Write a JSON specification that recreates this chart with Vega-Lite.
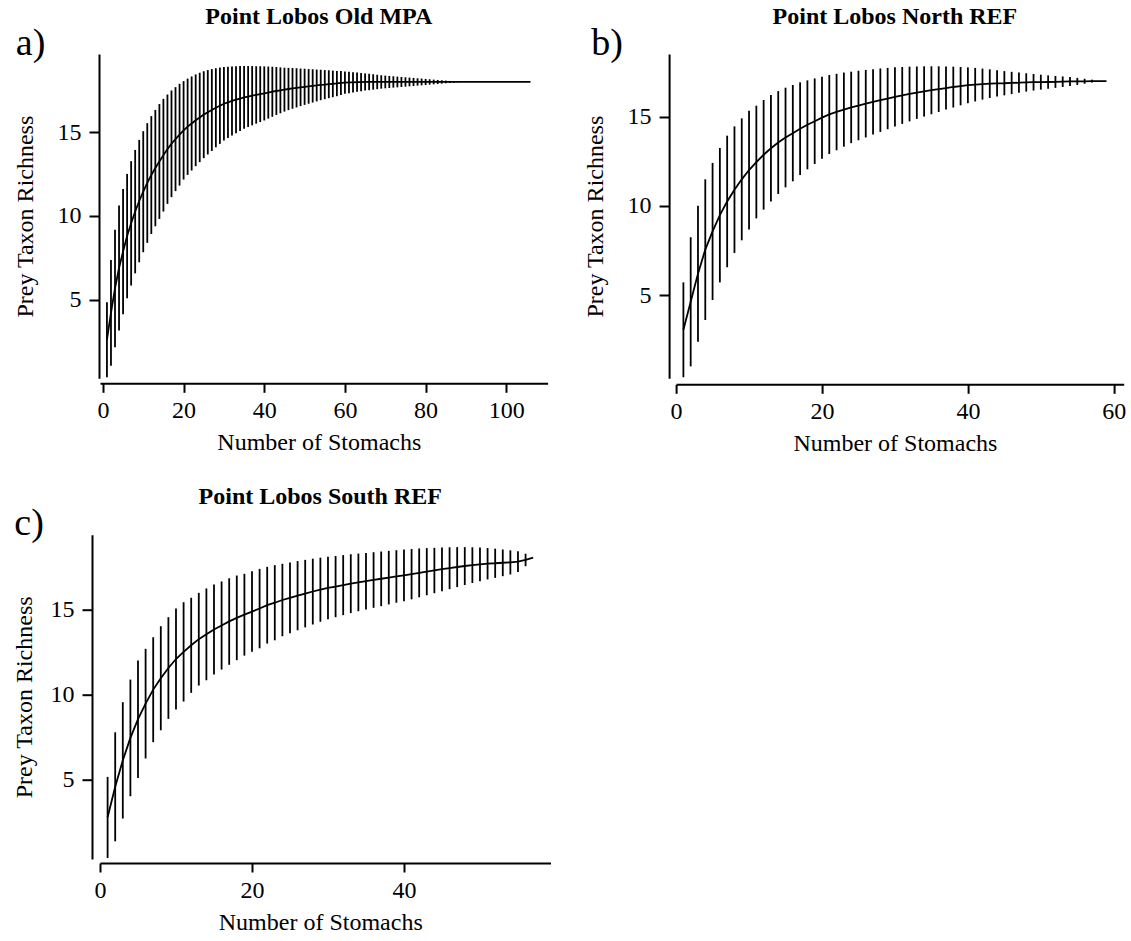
{
"$schema": "https://vega.github.io/schema/vega-lite/v6.json",
"background": "white",
"padding": {"left": 12, "top": 4, "right": 0, "bottom": 0},
"config": {
 "font": "Liberation Serif",
 "view": {"stroke": null},
 "axis": {"grid": false, "domainColor": "#000", "domainWidth": 2, "tickColor": "#000", "tickWidth": 2, "labelColor": "#000", "titleColor": "#000", "labelFontSize": 24, "titleFontSize": 24, "titleFontWeight": "normal", "labelFont": "Liberation Serif", "titleFont": "Liberation Serif", "labelFlush": false, "labelOverlap": false},
 "title": {"font": "Liberation Serif", "fontSize": 24, "fontWeight": "bold", "color": "#000", "anchor": "middle", "offset": -4, "dx": -5}
},
"datasets": {
 "d": [
{"p":"a","x":1,"m":2.60,"lo":0.36,"hi":4.84},
{"p":"a","x":2,"m":4.21,"lo":1.05,"hi":7.37},
{"p":"a","x":3,"m":5.67,"lo":2.15,"hi":9.18},
{"p":"a","x":4,"m":6.89,"lo":3.15,"hi":10.62},
{"p":"a","x":5,"m":7.87,"lo":4.12,"hi":11.61},
{"p":"a","x":6,"m":8.80,"lo":5.08,"hi":12.51},
{"p":"a","x":7,"m":9.56,"lo":5.84,"hi":13.27},
{"p":"a","x":8,"m":10.26,"lo":6.57,"hi":13.94},
{"p":"a","x":9,"m":10.89,"lo":7.23,"hi":14.54},
{"p":"a","x":10,"m":11.45,"lo":7.83,"hi":15.06},
{"p":"a","x":11,"m":11.97,"lo":8.39,"hi":15.54},
{"p":"a","x":12,"m":12.44,"lo":8.92,"hi":15.96},
{"p":"a","x":13,"m":12.86,"lo":9.38,"hi":16.33},
{"p":"a","x":14,"m":13.25,"lo":9.82,"hi":16.68},
{"p":"a","x":15,"m":13.63,"lo":10.26,"hi":16.99},
{"p":"a","x":16,"m":13.99,"lo":10.72,"hi":17.25},
{"p":"a","x":17,"m":14.31,"lo":11.12,"hi":17.49},
{"p":"a","x":18,"m":14.59,"lo":11.48,"hi":17.69},
{"p":"a","x":19,"m":14.85,"lo":11.81,"hi":17.89},
{"p":"a","x":20,"m":15.11,"lo":12.17,"hi":18.05},
{"p":"a","x":21,"m":15.33,"lo":12.45,"hi":18.20},
{"p":"a","x":22,"m":15.52,"lo":12.71,"hi":18.33},
{"p":"a","x":23,"m":15.71,"lo":12.97,"hi":18.45},
{"p":"a","x":24,"m":15.88,"lo":13.21,"hi":18.55},
{"p":"a","x":25,"m":16.05,"lo":13.45,"hi":18.64},
{"p":"a","x":26,"m":16.19,"lo":13.67,"hi":18.71},
{"p":"a","x":27,"m":16.33,"lo":13.88,"hi":18.77},
{"p":"a","x":28,"m":16.46,"lo":14.10,"hi":18.82},
{"p":"a","x":29,"m":16.58,"lo":14.30,"hi":18.86},
{"p":"a","x":30,"m":16.70,"lo":14.50,"hi":18.89},
{"p":"a","x":31,"m":16.78,"lo":14.65,"hi":18.91},
{"p":"a","x":32,"m":16.87,"lo":14.80,"hi":18.93},
{"p":"a","x":33,"m":16.94,"lo":14.94,"hi":18.94},
{"p":"a","x":34,"m":17.01,"lo":15.07,"hi":18.95},
{"p":"a","x":35,"m":17.08,"lo":15.20,"hi":18.95},
{"p":"a","x":36,"m":17.13,"lo":15.31,"hi":18.95},
{"p":"a","x":37,"m":17.18,"lo":15.41,"hi":18.95},
{"p":"a","x":38,"m":17.23,"lo":15.51,"hi":18.94},
{"p":"a","x":39,"m":17.28,"lo":15.61,"hi":18.94},
{"p":"a","x":40,"m":17.32,"lo":15.70,"hi":18.93},
{"p":"a","x":41,"m":17.37,"lo":15.81,"hi":18.92},
{"p":"a","x":42,"m":17.42,"lo":15.92,"hi":18.91},
{"p":"a","x":43,"m":17.46,"lo":16.03,"hi":18.89},
{"p":"a","x":44,"m":17.50,"lo":16.13,"hi":18.87},
{"p":"a","x":45,"m":17.54,"lo":16.23,"hi":18.85},
{"p":"a","x":46,"m":17.58,"lo":16.32,"hi":18.84},
{"p":"a","x":47,"m":17.62,"lo":16.40,"hi":18.83},
{"p":"a","x":48,"m":17.65,"lo":16.48,"hi":18.82},
{"p":"a","x":49,"m":17.68,"lo":16.56,"hi":18.80},
{"p":"a","x":50,"m":17.71,"lo":16.63,"hi":18.79},
{"p":"a","x":51,"m":17.74,"lo":16.70,"hi":18.77},
{"p":"a","x":52,"m":17.77,"lo":16.77,"hi":18.76},
{"p":"a","x":53,"m":17.79,"lo":16.84,"hi":18.74},
{"p":"a","x":54,"m":17.82,"lo":16.91,"hi":18.73},
{"p":"a","x":55,"m":17.84,"lo":16.97,"hi":18.71},
{"p":"a","x":56,"m":17.87,"lo":17.03,"hi":18.70},
{"p":"a","x":57,"m":17.89,"lo":17.09,"hi":18.68},
{"p":"a","x":58,"m":17.91,"lo":17.15,"hi":18.66},
{"p":"a","x":59,"m":17.94,"lo":17.22,"hi":18.65},
{"p":"a","x":60,"m":17.96,"lo":17.29,"hi":18.63},
{"p":"a","x":61,"m":17.97,"lo":17.33,"hi":18.61},
{"p":"a","x":62,"m":17.98,"lo":17.37,"hi":18.58},
{"p":"a","x":63,"m":17.99,"lo":17.42,"hi":18.56},
{"p":"a","x":64,"m":17.99,"lo":17.45,"hi":18.53},
{"p":"a","x":65,"m":18.0,"lo":17.49,"hi":18.51},
{"p":"a","x":66,"m":18.0,"lo":17.51,"hi":18.49},
{"p":"a","x":67,"m":18.0,"lo":17.54,"hi":18.46},
{"p":"a","x":68,"m":18.0,"lo":17.57,"hi":18.43},
{"p":"a","x":69,"m":18.0,"lo":17.60,"hi":18.40},
{"p":"a","x":70,"m":18.0,"lo":17.62,"hi":18.38},
{"p":"a","x":71,"m":18.0,"lo":17.64,"hi":18.36},
{"p":"a","x":72,"m":18.0,"lo":17.66,"hi":18.34},
{"p":"a","x":73,"m":18.0,"lo":17.68,"hi":18.32},
{"p":"a","x":74,"m":18.0,"lo":17.70,"hi":18.30},
{"p":"a","x":75,"m":18.0,"lo":17.72,"hi":18.28},
{"p":"a","x":76,"m":18.0,"lo":17.74,"hi":18.26},
{"p":"a","x":77,"m":18.0,"lo":17.76,"hi":18.24},
{"p":"a","x":78,"m":18.0,"lo":17.78,"hi":18.22},
{"p":"a","x":79,"m":18.0,"lo":17.80,"hi":18.20},
{"p":"a","x":80,"m":18.0,"lo":17.82,"hi":18.18},
{"p":"a","x":81,"m":18.0,"lo":17.84,"hi":18.16},
{"p":"a","x":82,"m":18.0,"lo":17.86,"hi":18.14},
{"p":"a","x":83,"m":18.0,"lo":17.88,"hi":18.12},
{"p":"a","x":84,"m":18.0,"lo":17.90,"hi":18.10},
{"p":"a","x":85,"m":18.0,"lo":17.92,"hi":18.08},
{"p":"a","x":86,"m":18.0,"lo":17.94,"hi":18.06},
{"p":"a","x":87,"m":18.0,"lo":17.96,"hi":18.04},
{"p":"a","x":88,"m":18.0,"lo":17.98,"hi":18.02},
{"p":"a","x":89,"m":18.0,"lo":18.0,"hi":18.0},
{"p":"a","x":90,"m":18.0,"lo":18.0,"hi":18.0},
{"p":"a","x":91,"m":18.0,"lo":18.0,"hi":18.0},
{"p":"a","x":92,"m":18.0,"lo":18.0,"hi":18.0},
{"p":"a","x":93,"m":18.0,"lo":18.0,"hi":18.0},
{"p":"a","x":94,"m":18.0,"lo":18.0,"hi":18.0},
{"p":"a","x":95,"m":18.0,"lo":18.0,"hi":18.0},
{"p":"a","x":96,"m":18.0,"lo":18.0,"hi":18.0},
{"p":"a","x":97,"m":18.0,"lo":18.0,"hi":18.0},
{"p":"a","x":98,"m":18.0,"lo":18.0,"hi":18.0},
{"p":"a","x":99,"m":18.0,"lo":18.0,"hi":18.0},
{"p":"a","x":100,"m":18.0,"lo":18.0,"hi":18.0},
{"p":"a","x":101,"m":18.0,"lo":18.0,"hi":18.0},
{"p":"a","x":102,"m":18.0,"lo":18.0,"hi":18.0},
{"p":"a","x":103,"m":18.0,"lo":18.0,"hi":18.0},
{"p":"a","x":104,"m":18.0,"lo":18.0,"hi":18.0},
{"p":"a","x":105,"m":18.0,"lo":18.0,"hi":18.0},
{"p":"a","x":106,"m":18.0,"lo":18.0,"hi":18.0},
{"p":"b","x":1,"m":3.05,"lo":0.39,"hi":5.71},
{"p":"b","x":2,"m":4.62,"lo":1.00,"hi":8.24},
{"p":"b","x":3,"m":6.20,"lo":2.38,"hi":10.01},
{"p":"b","x":4,"m":7.55,"lo":3.60,"hi":11.49},
{"p":"b","x":5,"m":8.57,"lo":4.72,"hi":12.41},
{"p":"b","x":6,"m":9.48,"lo":5.71,"hi":13.25},
{"p":"b","x":7,"m":10.25,"lo":6.56,"hi":13.94},
{"p":"b","x":8,"m":10.91,"lo":7.36,"hi":14.46},
{"p":"b","x":9,"m":11.49,"lo":8.07,"hi":14.91},
{"p":"b","x":10,"m":12.01,"lo":8.67,"hi":15.34},
{"p":"b","x":11,"m":12.46,"lo":9.30,"hi":15.62},
{"p":"b","x":12,"m":12.87,"lo":9.79,"hi":15.94},
{"p":"b","x":13,"m":13.23,"lo":10.24,"hi":16.22},
{"p":"b","x":14,"m":13.56,"lo":10.67,"hi":16.44},
{"p":"b","x":15,"m":13.84,"lo":11.04,"hi":16.63},
{"p":"b","x":16,"m":14.08,"lo":11.38,"hi":16.78},
{"p":"b","x":17,"m":14.33,"lo":11.73,"hi":16.93},
{"p":"b","x":18,"m":14.55,"lo":12.05,"hi":17.04},
{"p":"b","x":19,"m":14.75,"lo":12.35,"hi":17.15},
{"p":"b","x":20,"m":14.95,"lo":12.65,"hi":17.25},
{"p":"b","x":21,"m":15.13,"lo":12.91,"hi":17.34},
{"p":"b","x":22,"m":15.27,"lo":13.12,"hi":17.41},
{"p":"b","x":23,"m":15.40,"lo":13.32,"hi":17.48},
{"p":"b","x":24,"m":15.53,"lo":13.52,"hi":17.53},
{"p":"b","x":25,"m":15.63,"lo":13.68,"hi":17.58},
{"p":"b","x":26,"m":15.74,"lo":13.84,"hi":17.63},
{"p":"b","x":27,"m":15.84,"lo":14.00,"hi":17.67},
{"p":"b","x":28,"m":15.93,"lo":14.15,"hi":17.71},
{"p":"b","x":29,"m":16.02,"lo":14.30,"hi":17.74},
{"p":"b","x":30,"m":16.11,"lo":14.45,"hi":17.77},
{"p":"b","x":31,"m":16.20,"lo":14.60,"hi":17.79},
{"p":"b","x":32,"m":16.28,"lo":14.74,"hi":17.81},
{"p":"b","x":33,"m":16.35,"lo":14.88,"hi":17.82},
{"p":"b","x":34,"m":16.42,"lo":15.01,"hi":17.83},
{"p":"b","x":35,"m":16.49,"lo":15.14,"hi":17.83},
{"p":"b","x":36,"m":16.55,"lo":15.27,"hi":17.83},
{"p":"b","x":37,"m":16.61,"lo":15.40,"hi":17.82},
{"p":"b","x":38,"m":16.67,"lo":15.52,"hi":17.81},
{"p":"b","x":39,"m":16.72,"lo":15.64,"hi":17.79},
{"p":"b","x":40,"m":16.77,"lo":15.76,"hi":17.77},
{"p":"b","x":41,"m":16.80,"lo":15.86,"hi":17.74},
{"p":"b","x":42,"m":16.83,"lo":15.96,"hi":17.70},
{"p":"b","x":43,"m":16.86,"lo":16.05,"hi":17.66},
{"p":"b","x":44,"m":16.87,"lo":16.13,"hi":17.61},
{"p":"b","x":45,"m":16.88,"lo":16.20,"hi":17.56},
{"p":"b","x":46,"m":16.90,"lo":16.27,"hi":17.52},
{"p":"b","x":47,"m":16.91,"lo":16.34,"hi":17.48},
{"p":"b","x":48,"m":16.93,"lo":16.41,"hi":17.44},
{"p":"b","x":49,"m":16.94,"lo":16.47,"hi":17.40},
{"p":"b","x":50,"m":16.94,"lo":16.52,"hi":17.36},
{"p":"b","x":51,"m":16.95,"lo":16.57,"hi":17.32},
{"p":"b","x":52,"m":16.96,"lo":16.62,"hi":17.29},
{"p":"b","x":53,"m":16.97,"lo":16.67,"hi":17.26},
{"p":"b","x":54,"m":16.98,"lo":16.72,"hi":17.23},
{"p":"b","x":55,"m":16.98,"lo":16.78,"hi":17.18},
{"p":"b","x":56,"m":16.99,"lo":16.85,"hi":17.13},
{"p":"b","x":57,"m":17.0,"lo":16.92,"hi":17.08},
{"p":"b","x":58,"m":17.0,"lo":17.0,"hi":17.0},
{"p":"b","x":59,"m":17.0,"lo":17.0,"hi":17.0},
{"p":"c","x":1,"m":2.78,"lo":0.39,"hi":5.16},
{"p":"c","x":2,"m":4.58,"lo":1.37,"hi":7.78},
{"p":"c","x":3,"m":6.13,"lo":2.71,"hi":9.55},
{"p":"c","x":4,"m":7.45,"lo":4.02,"hi":10.88},
{"p":"c","x":5,"m":8.55,"lo":5.10,"hi":12.00},
{"p":"c","x":6,"m":9.47,"lo":6.24,"hi":12.69},
{"p":"c","x":7,"m":10.29,"lo":7.20,"hi":13.37},
{"p":"c","x":8,"m":10.96,"lo":7.90,"hi":14.02},
{"p":"c","x":9,"m":11.56,"lo":8.57,"hi":14.55},
{"p":"c","x":10,"m":12.09,"lo":9.12,"hi":15.06},
{"p":"c","x":11,"m":12.51,"lo":9.59,"hi":15.43},
{"p":"c","x":12,"m":12.90,"lo":10.10,"hi":15.69},
{"p":"c","x":13,"m":13.26,"lo":10.53,"hi":15.98},
{"p":"c","x":14,"m":13.54,"lo":10.84,"hi":16.24},
{"p":"c","x":15,"m":13.83,"lo":11.18,"hi":16.47},
{"p":"c","x":16,"m":14.06,"lo":11.47,"hi":16.65},
{"p":"c","x":17,"m":14.30,"lo":11.75,"hi":16.84},
{"p":"c","x":18,"m":14.51,"lo":12.02,"hi":17.00},
{"p":"c","x":19,"m":14.70,"lo":12.29,"hi":17.10},
{"p":"c","x":20,"m":14.88,"lo":12.51,"hi":17.25},
{"p":"c","x":21,"m":15.06,"lo":12.72,"hi":17.39},
{"p":"c","x":22,"m":15.26,"lo":13.00,"hi":17.51},
{"p":"c","x":23,"m":15.40,"lo":13.19,"hi":17.61},
{"p":"c","x":24,"m":15.56,"lo":13.43,"hi":17.69},
{"p":"c","x":25,"m":15.69,"lo":13.60,"hi":17.77},
{"p":"c","x":26,"m":15.82,"lo":13.78,"hi":17.85},
{"p":"c","x":27,"m":15.94,"lo":13.95,"hi":17.92},
{"p":"c","x":28,"m":16.06,"lo":14.12,"hi":17.99},
{"p":"c","x":29,"m":16.17,"lo":14.28,"hi":18.05},
{"p":"c","x":30,"m":16.27,"lo":14.43,"hi":18.10},
{"p":"c","x":31,"m":16.35,"lo":14.55,"hi":18.15},
{"p":"c","x":32,"m":16.44,"lo":14.67,"hi":18.20},
{"p":"c","x":33,"m":16.52,"lo":14.79,"hi":18.25},
{"p":"c","x":34,"m":16.60,"lo":14.90,"hi":18.29},
{"p":"c","x":35,"m":16.67,"lo":15.00,"hi":18.33},
{"p":"c","x":36,"m":16.74,"lo":15.10,"hi":18.37},
{"p":"c","x":37,"m":16.81,"lo":15.20,"hi":18.41},
{"p":"c","x":38,"m":16.88,"lo":15.30,"hi":18.45},
{"p":"c","x":39,"m":16.95,"lo":15.40,"hi":18.49},
{"p":"c","x":40,"m":17.01,"lo":15.49,"hi":18.53},
{"p":"c","x":41,"m":17.08,"lo":15.60,"hi":18.56},
{"p":"c","x":42,"m":17.16,"lo":15.72,"hi":18.59},
{"p":"c","x":43,"m":17.23,"lo":15.84,"hi":18.61},
{"p":"c","x":44,"m":17.30,"lo":15.96,"hi":18.63},
{"p":"c","x":45,"m":17.37,"lo":16.08,"hi":18.65},
{"p":"c","x":46,"m":17.43,"lo":16.20,"hi":18.66},
{"p":"c","x":47,"m":17.50,"lo":16.32,"hi":18.67},
{"p":"c","x":48,"m":17.56,"lo":16.44,"hi":18.67},
{"p":"c","x":49,"m":17.61,"lo":16.56,"hi":18.66},
{"p":"c","x":50,"m":17.66,"lo":16.67,"hi":18.65},
{"p":"c","x":51,"m":17.70,"lo":16.77,"hi":18.62},
{"p":"c","x":52,"m":17.72,"lo":16.86,"hi":18.58},
{"p":"c","x":53,"m":17.75,"lo":16.96,"hi":18.53},
{"p":"c","x":54,"m":17.77,"lo":17.06,"hi":18.48},
{"p":"c","x":55,"m":17.82,"lo":17.20,"hi":18.43},
{"p":"c","x":56,"m":17.92,"lo":17.55,"hi":18.28},
{"p":"c","x":57,"m":18.05,"lo":18.05,"hi":18.05}
 ],
 "lab": [
  {"p": "a", "t": "a)"},
  {"p": "b", "t": "b)"},
  {"p": "c", "t": "c)"}
 ]
},
"concat": [
 {
  "width": 447.6, "height": 324.3,
  "title": "Point Lobos Old MPA",
  "layer": [
   {"data": {"name": "d"}, "transform": [{"filter": "datum.p === 'a'"}], "mark": {"type": "rule", "color": "#000", "strokeWidth": 1.8},
    "encoding": {
     "x": {"field": "x", "type": "quantitative", "title": "Number of Stomachs", "scale": {"domain": [-0.72, 110.24], "nice": false, "zero": false}, "axis": {"values": [0, 20, 40, 60, 80, 100], "offset": 5, "tickSize": 9, "labelPadding": 6, "titlePadding": 8, "titleX": 218.8}},
     "y": {"field": "lo", "type": "quantitative", "title": "Prey Taxon Richness", "scale": {"domain": [0.3, 19.67], "nice": false, "zero": false}, "axis": {"values": [5, 10, 15], "offset": 1, "tickSize": 10, "labelPadding": 8, "titlePadding": 20}},
     "y2": {"field": "hi"}}},
   {"data": {"name": "d"}, "transform": [{"filter": "datum.p === 'a'"}], "mark": {"type": "line", "color": "#000", "strokeWidth": 1.8},
    "encoding": {"x": {"field": "x", "type": "quantitative", "title": "Number of Stomachs"}, "y": {"field": "m", "type": "quantitative", "title": "Prey Taxon Richness"}}},
   {"data": {"name": "lab"}, "transform": [{"filter": "datum.p === 'a'"}], "mark": {"type": "text", "fontSize": 38, "font": "Liberation Serif", "color": "#000", "baseline": "middle", "align": "center", "clip": false},
    "encoding": {"x": {"datum": -17.92}, "y": {"datum": 20.27}, "text": {"field": "t", "type": "nominal"}}}
  ]
 },
 {
  "width": 447.6, "height": 324.3,
  "title": "Point Lobos North REF",
  "layer": [
   {"data": {"name": "d"}, "transform": [{"filter": "datum.p === 'b'"}], "mark": {"type": "rule", "color": "#000", "strokeWidth": 1.8},
    "encoding": {
     "x": {"field": "x", "type": "quantitative", "title": "Number of Stomachs", "scale": {"domain": [0, 61.36], "nice": false, "zero": false}, "axis": {"values": [0, 20, 40, 60], "offset": 6, "tickSize": 9, "labelPadding": 6, "titlePadding": 8, "titleX": 218.8}},
     "y": {"field": "lo", "type": "quantitative", "title": "Prey Taxon Richness", "scale": {"domain": [0.33, 18.52], "nice": false, "zero": false}, "axis": {"values": [5, 10, 15], "offset": 7, "tickSize": 10, "labelPadding": 8, "titlePadding": 20}},
     "y2": {"field": "hi"}}},
   {"data": {"name": "d"}, "transform": [{"filter": "datum.p === 'b'"}], "mark": {"type": "line", "color": "#000", "strokeWidth": 1.8},
    "encoding": {"x": {"field": "x", "type": "quantitative", "title": "Number of Stomachs"}, "y": {"field": "m", "type": "quantitative", "title": "Prey Taxon Richness"}}},
   {"data": {"name": "lab"}, "transform": [{"filter": "datum.p === 'b'"}], "mark": {"type": "text", "fontSize": 38, "font": "Liberation Serif", "color": "#000", "baseline": "middle", "align": "center", "clip": false},
    "encoding": {"x": {"datum": -9.46}, "y": {"datum": 19.08}, "text": {"field": "t", "type": "nominal"}}}
  ]
 },
 {
  "width": 450.5, "height": 324.3,
  "title": "Point Lobos South REF",
  "layer": [
   {"data": {"name": "d"}, "transform": [{"filter": "datum.p === 'c'"}], "mark": {"type": "rule", "color": "#000", "strokeWidth": 1.8},
    "encoding": {
     "x": {"field": "x", "type": "quantitative", "title": "Number of Stomachs", "scale": {"domain": [0, 59.28], "nice": false, "zero": false}, "axis": {"values": [0, 20, 40], "offset": 4, "tickSize": 9, "labelPadding": 6, "titlePadding": 8, "titleX": 220.25}},
     "y": {"field": "lo", "type": "quantitative", "title": "Prey Taxon Richness", "scale": {"domain": [0.33, 19.4], "nice": false, "zero": false}, "axis": {"values": [5, 10, 15], "offset": 8, "tickSize": 10, "labelPadding": 8, "titlePadding": 14}},
     "y2": {"field": "hi"}}},
   {"data": {"name": "d"}, "transform": [{"filter": "datum.p === 'c'"}], "mark": {"type": "line", "color": "#000", "strokeWidth": 1.8},
    "encoding": {"x": {"field": "x", "type": "quantitative", "title": "Number of Stomachs"}, "y": {"field": "m", "type": "quantitative", "title": "Prey Taxon Richness"}}},
   {"data": {"name": "lab"}, "transform": [{"filter": "datum.p === 'c'"}], "mark": {"type": "text", "fontSize": 38, "font": "Liberation Serif", "color": "#000", "baseline": "middle", "align": "center", "clip": false},
    "encoding": {"x": {"datum": -9.33}, "y": {"datum": 20.05}, "text": {"field": "t", "type": "nominal"}}}
  ]
 }
],
"columns": 2,
"spacing": {"row": 155.7, "column": 125.1},
"bounds": "flush"
}
